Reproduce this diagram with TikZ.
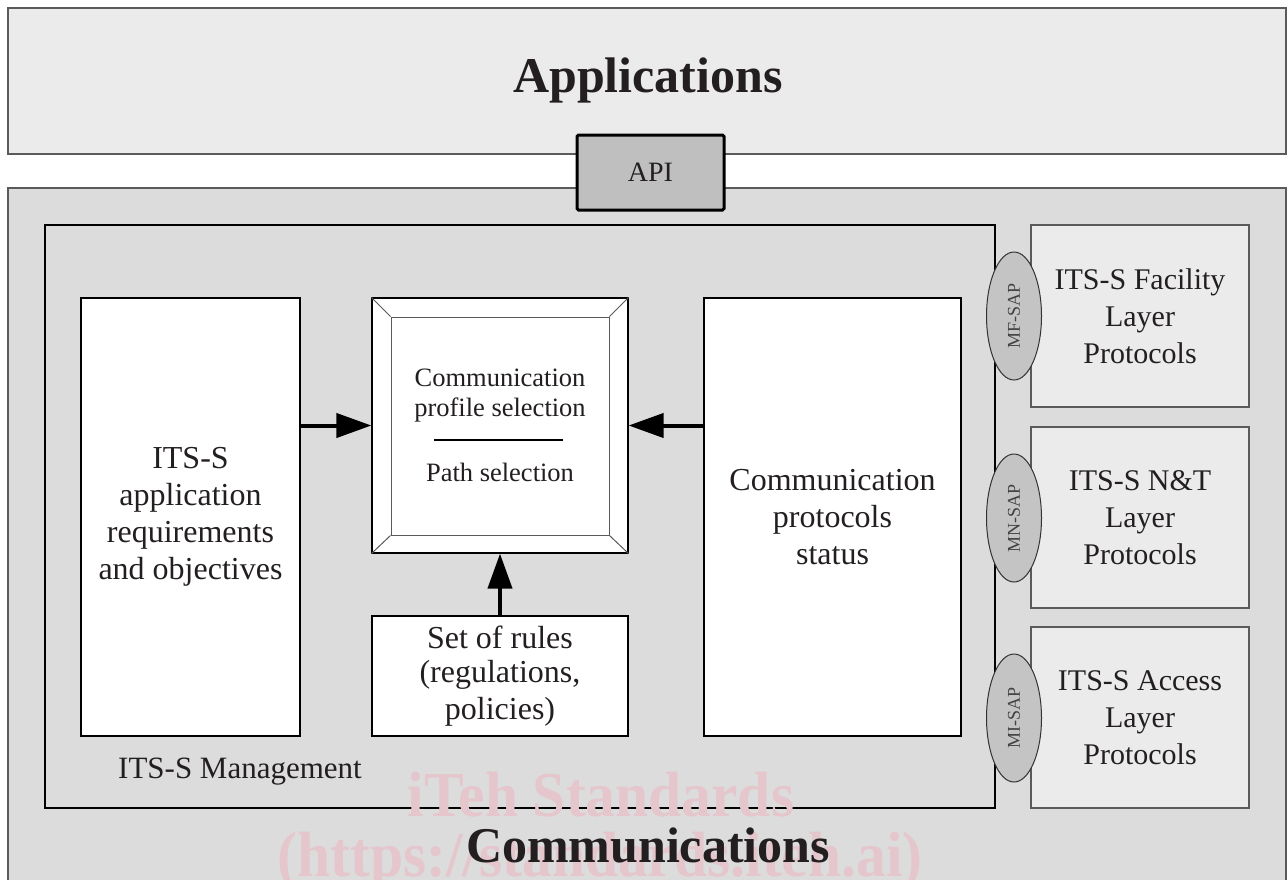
\documentclass[tikz,border=0pt]{standalone}
\usepackage{fontspec}
\setmainfont{Liberation Serif}
\usetikzlibrary{arrows.meta,calc,shapes.geometric}
\definecolor{appfill}{HTML}{EBEBEB}
\definecolor{comfill}{HTML}{DCDCDC}
\definecolor{apifill}{HTML}{BFBFBF}
\definecolor{sapfill}{HTML}{C4C4C4}
\definecolor{txt}{HTML}{231F20}
\definecolor{edge}{HTML}{5A5A5A}
\definecolor{wmark}{RGB}{229,198,204}
\tikzset{
  box/.style={draw=black, line width=1.2pt, rectangle, inner sep=0pt, align=center, text=txt},
  whitebox/.style={box, fill=white, font=\fontsize{32}{37}\selectfont},
  layerbox/.style={box, fill=appfill, draw=edge, minimum width=218pt, font=\fontsize{30}{37}\selectfont},
  sap/.style={draw=black!80, line width=1pt, ellipse, fill=sapfill, minimum width=55pt, minimum height=128pt, inner sep=0pt},
  saptext/.style={rotate=90, text=txt!85, font=\fontsize{18}{20}\selectfont},
  arr/.style={line width=4pt, -{Triangle[length=35pt,width=24pt]}, black},
  wm/.style={text=wmark, font=\bfseries\fontsize{64}{64}\selectfont, anchor=base, xscale=0.93},
}
\begin{document}
\begin{tikzpicture}[x=1pt,y=-1pt]
\useasboundingbox (0,0) rectangle (1288,879);
\clip (0,0) rectangle (1288,879);
\fill[white] (0,0) rectangle (1288,879);
% Applications
\node[box, draw=edge, fill=appfill, minimum width=1278pt, minimum height=146pt] (apps) at (647,81) {};
\node[text=txt, font=\bfseries\fontsize{50}{56}\selectfont] (appstxt) at (648,80) {Applications};
% Communications
\node[box, draw=edge, fill=comfill, minimum width=1278pt, minimum height=712pt] (comm) at (647,544) {};
% API
\node[draw=black, line width=3pt, rounded corners=1.5pt, fill=apifill, minimum width=147pt, minimum height=75pt, inner sep=0pt, text=txt, font=\fontsize{28}{30}\selectfont] (api) at (650.5,172.5) {API};
% Management
\node[box, fill=comfill, minimum width=950pt, minimum height=583pt] (mgmt) at (520,516.5) {};
% watermark
\node[wm] (wm1) at (601,816) {iTeh Standards};
\node[wm] (wm2) at (600,876) {(https://standards.iteh.ai)};
\node[text=txt, font=\fontsize{31}{36}\selectfont] (mgmttxt) at (240,772) {ITS-S Management};
\node[text=txt, font=\bfseries\fontsize{50}{56}\selectfont] (commtxt) at (648,845) {Communications};
% inner boxes
\node[whitebox, minimum width=219pt, minimum height=438pt] (req) at (190.5,517) {ITS-S\\application\\requirements\\and objectives};
\node[whitebox, minimum width=257pt, minimum height=438pt] (status) at (832.5,517) {Communication\\protocols\\status};
\node[whitebox, minimum width=256pt, minimum height=120pt] (rules) at (500,676) {\raisebox{-3pt}{Set of rules}\\(regulations,\\policies)};
\node[box, fill=white, minimum width=256pt, minimum height=255pt] (cpo) at (500,425.5) {};
\node[box, draw=edge, line width=1pt, fill=white, minimum width=218pt, minimum height=218pt] (cpi) at (500,426) {};
\draw[edge, line width=1pt] (cpo.north west) -- (cpi.north west)
  (cpo.north east) -- (cpi.north east)
  (cpo.south west) -- (cpi.south west)
  (cpo.south east) -- (cpi.south east);
\node[text=txt, align=center, font=\fontsize{26.5}{30}\selectfont] (cps) at (500,396) {Communication\\profile selection};
\draw[black, line width=1.6pt] (434,440) -- (563,440);
\node[text=txt, font=\fontsize{26.5}{30}\selectfont] (ps) at (500,472) {Path selection};
% arrows
\draw[arr] (cpo.west -| req.east) -- (cpo.west);
\draw[arr] (cpo.east -| status.west) -- (cpo.east);
\draw[arr] (rules.north) -- (cpo.south);
% layer boxes
\node[layerbox, minimum height=182pt] (fac) at (1140,316) {ITS-S Facility\\Layer\\Protocols};
\node[layerbox, minimum height=181pt] (nt) at (1140,517.5) {ITS-S N\&T\\Layer\\Protocols};
\node[layerbox, minimum height=181pt] (acc) at (1140,717.5) {ITS-S Access\\Layer\\Protocols};
\node[sap] (mf) at (1014,316) {};
\node[saptext] (mftxt) at (mf.center) {MF-SAP};
\node[sap] (mn) at (1014,518) {};
\node[saptext] (mntxt) at (mn.center) {MN-SAP};
\node[sap] (mi) at (1014,718) {};
\node[saptext] (mitxt) at (mi.center) {MI-SAP};
\end{tikzpicture}
\end{document}
